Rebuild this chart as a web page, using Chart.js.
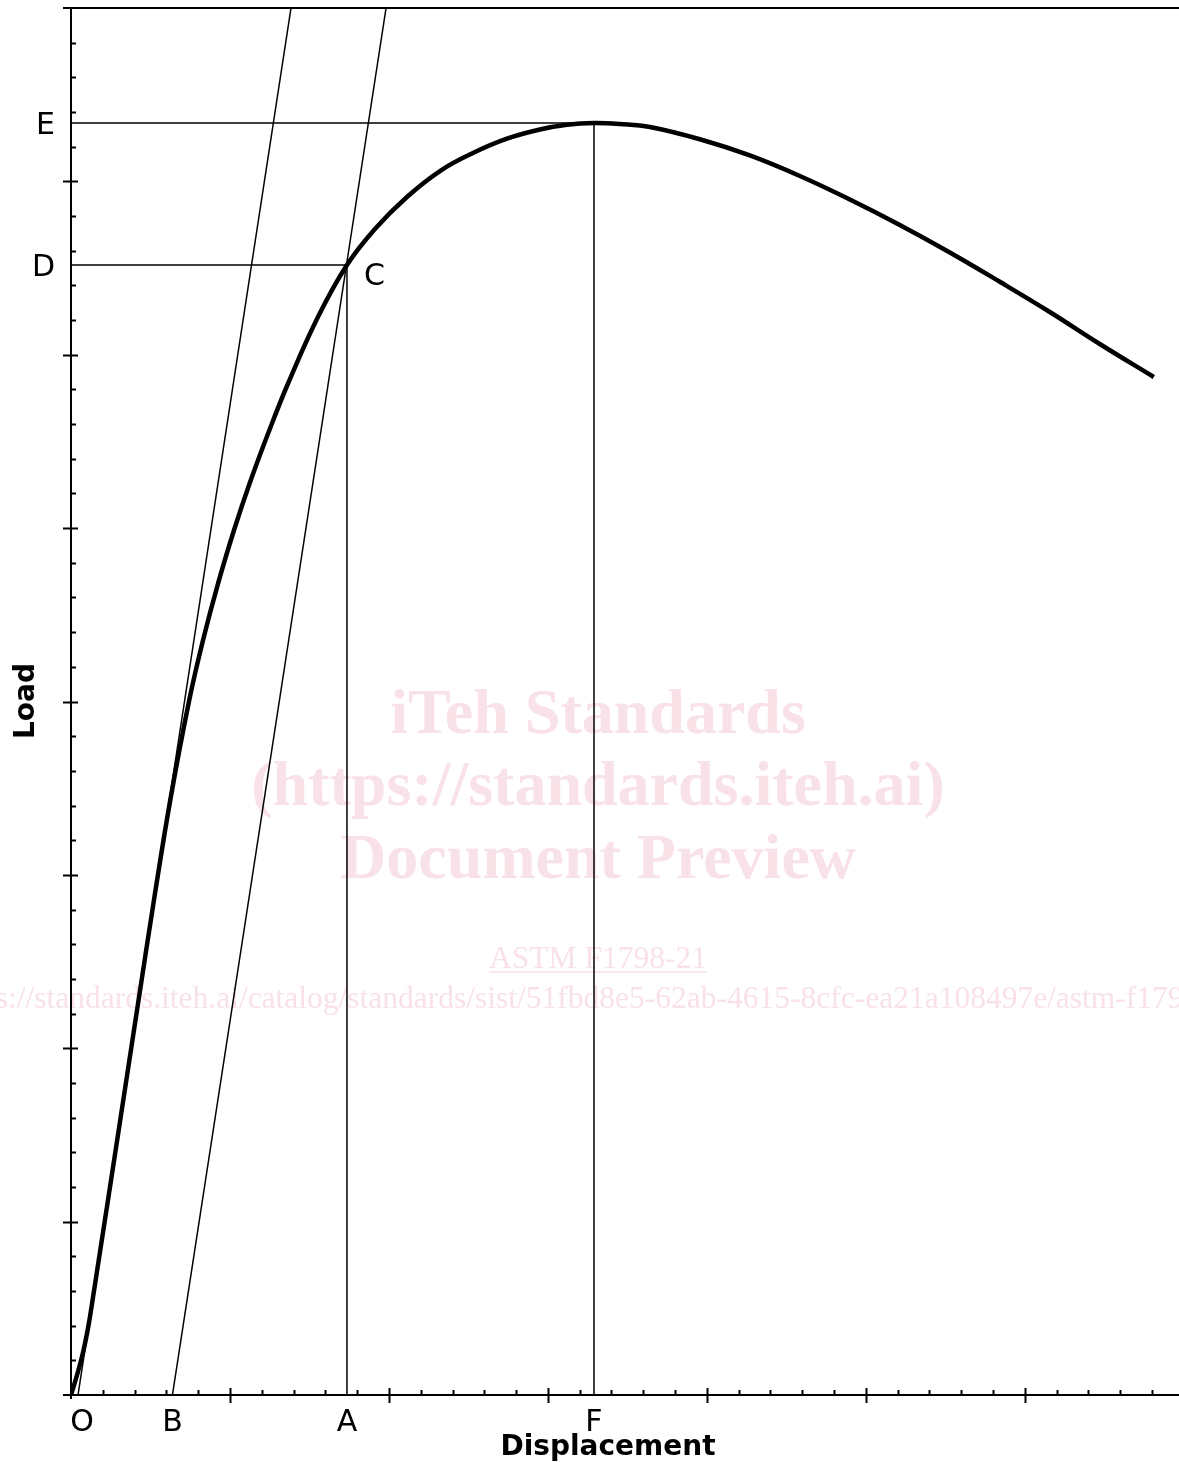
<!DOCTYPE html>
<html>
<head>
<meta charset="utf-8">
<script src="https://cdn.jsdelivr.net/npm/chart.js@4/dist/chart.umd.min.js"></script>
<style>
  body { margin: 0; background: #fff; }
  #wrap { width: 1179px; height: 1462px; position: relative; }
</style>
</head>
<body>
<div id="wrap"><canvas id="chart"></canvas></div>
<script>
// load-displacement curve (x: minor tick = 1, y: minor tick = 1)
const curveX = [0, 0.217, 0.396, 0.553, 0.679, 0.921, 1.164, 1.645, 2.126, 2.610, 3.123, 3.720, 4.154, 4.629, 5.129, 5.623, 6.217, 6.833, 7.767, 8.679,
    9.560, 10.566, 11.604, 12.642, 13.711, 14.748, 15.597, 16.447, 17.264, 18.208, 19.780, 21.352, 22.925, 24.497, 26.069, 27.642, 29.214, 30.786, 32.358, 34.057];
const curveY = [0, 0.663, 1.298, 2.019, 2.740, 4.182, 5.624, 8.508, 11.392, 14.275, 17.159, 20.043, 21.774, 23.417, 24.946, 26.302, 27.772, 29.185, 31.089, 32.588,
    33.627, 34.550, 35.299, 35.818, 36.231, 36.496, 36.632, 36.684, 36.655, 36.568, 36.214, 35.747, 35.155, 34.478, 33.742, 32.949, 32.104, 31.233, 30.310, 29.358];

// construction lines
const tangentX = [0.22, 6.92];
const tangentY = [0, 40];
const offsetX = [3.19, 9.91];
const offsetY = [0, 40];

// named points
const xLabels = ['O', 'B', 'A', 'F'];
const xLabelValues = [0, 3.19, 8.68, 16.45];
const yLabels = ['D', 'E'];
const yLabelValues = [32.59, 36.68];
const pointC = [8.68, 32.59];

const xMax = 34.85;
const yMax = 40;

const watermark = [
    'iTeh Standards',
    '(https://standards.iteh.ai)',
    'Document Preview',
    'ASTM F1798-21',
    'https://standards.iteh.ai/catalog/standards/sist/51fbd8e5-62ab-4615-8cfc-ea21a108497e/astm-f1798-21'
];

function pts(xs, ys) {
    return xs.map((x, i) => ({ x: x, y: ys[i] }));
}

const thin = { borderColor: '#000', borderWidth: 1.5, pointRadius: 0, showLine: true, tension: 0, fill: false };

const datasets = [
    { data: pts(curveX, curveY), borderColor: '#000', borderWidth: 4.5, pointRadius: 0, showLine: true, tension: 0.4, fill: false },
    Object.assign({ data: pts(tangentX, tangentY) }, thin),
    Object.assign({ data: pts(offsetX, offsetY) }, thin),
    Object.assign({ data: [{ x: 0, y: yLabelValues[0] }, { x: pointC[0], y: pointC[1] }] }, thin),
    Object.assign({ data: [{ x: 0, y: yLabelValues[1] }, { x: xLabelValues[3], y: yLabelValues[1] }] }, thin),
    Object.assign({ data: [{ x: xLabelValues[2], y: 0 }, { x: pointC[0], y: pointC[1] }] }, thin),
    Object.assign({ data: [{ x: xLabelValues[3], y: 0 }, { x: xLabelValues[3], y: yLabelValues[1] }] }, thin)
];

const figurePlugin = {
    id: 'figure',
    beforeDatasetsDraw(chart) {
        const ctx = chart.ctx;
        ctx.save();
        ctx.fillStyle = '#f9e1e8';
        ctx.strokeStyle = '#f9e1e8';
        ctx.textAlign = 'center';
        ctx.textBaseline = 'alphabetic';
        ctx.font = 'bold 64px "Liberation Serif"';
        ctx.fillText(watermark[0], 598, 733);
        ctx.fillText(watermark[1], 598, 805);
        ctx.fillText(watermark[2], 598, 878);
        ctx.font = '31.5px "Liberation Serif"';
        ctx.fillText(watermark[3], 598, 968);
        const w = ctx.measureText(watermark[3]).width;
        ctx.lineWidth = 1.5;
        ctx.beginPath();
        ctx.moveTo(598 - w / 2, 972);
        ctx.lineTo(598 + w / 2, 972);
        ctx.stroke();
        ctx.fillText(watermark[4], 594, 1008);
        ctx.restore();
    },
    afterDatasetsDraw(chart) {
        const ctx = chart.ctx;
        const xs = chart.scales.x, ys = chart.scales.y;
        const x0 = xs.getPixelForValue(0), y0 = ys.getPixelForValue(0);
        const yTop = ys.getPixelForValue(yMax);
        const xRight = chart.width;
        ctx.save();
        ctx.strokeStyle = '#000';
        ctx.lineWidth = 2;
        ctx.beginPath();
        // axes and top border
        ctx.moveTo(x0 - 8, y0); ctx.lineTo(xRight, y0);
        ctx.moveTo(x0, yTop); ctx.lineTo(x0, y0 + 4);
        ctx.moveTo(x0 - 8, yTop); ctx.lineTo(xRight, yTop);
        // x ticks
        for (let v = 1; v <= xMax; v++) {
            const px = Math.round(xs.getPixelForValue(v)) + 0.5;
            if (v % 5 === 0) { ctx.moveTo(px, y0 - 7); ctx.lineTo(px, y0 + 8); }
            else { ctx.moveTo(px, y0 - 5); ctx.lineTo(px, y0); }
        }
        // y ticks
        for (let v = 1; v < yMax; v++) {
            const py = Math.round(ys.getPixelForValue(v)) + 0.5;
            if (v % 5 === 0) { ctx.moveTo(x0 - 8, py); ctx.lineTo(x0 + 7, py); }
            else { ctx.moveTo(x0, py); ctx.lineTo(x0 + 5, py); }
        }
        ctx.stroke();

        ctx.fillStyle = '#000';
        ctx.font = '30px "DejaVu Sans"';
        ctx.textAlign = 'center';
        ctx.textBaseline = 'alphabetic';
        xLabels.forEach((t, i) => {
            const off = i === 0 ? 11 : 0;
            ctx.fillText(t, xs.getPixelForValue(xLabelValues[i]) + off, y0 + 36);
        });
        ctx.textAlign = 'right';
        yLabels.forEach((t, i) => {
            ctx.fillText(t, x0 - 16, ys.getPixelForValue(yLabelValues[i]) + 11);
        });
        ctx.textAlign = 'left';
        ctx.fillText('C', xs.getPixelForValue(pointC[0]) + 17, ys.getPixelForValue(pointC[1]) + 20);

        ctx.font = 'bold 28px "DejaVu Sans"';
        ctx.textAlign = 'center';
        ctx.fillText('Displacement', 608, 1455);
        ctx.translate(34, 701);
        ctx.rotate(-Math.PI / 2);
        ctx.fillText('Load', 0, 0);
        ctx.restore();
    }
};

new Chart(document.getElementById('chart'), {
    type: 'scatter',
    data: { datasets: datasets },
    options: {
        responsive: true,
        maintainAspectRatio: false,
        animation: false,
        layout: { padding: { left: 71, top: 8, right: 0, bottom: 67 } },
        plugins: { legend: { display: false }, tooltip: { enabled: false } },
        scales: {
            x: { type: 'linear', min: 0, max: xMax, display: false },
            y: { type: 'linear', min: 0, max: yMax, display: false }
        }
    },
    plugins: [figurePlugin]
});
</script>
</body>
</html>
